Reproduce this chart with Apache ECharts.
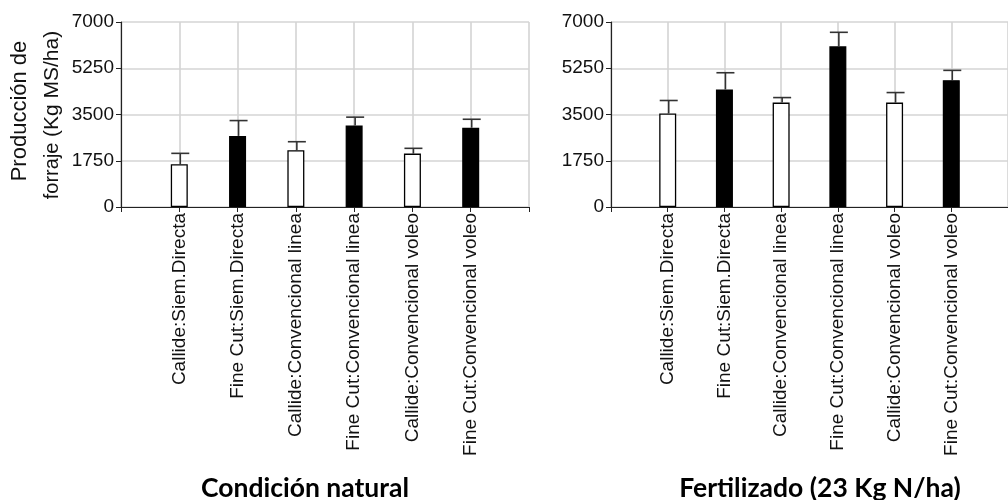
<!DOCTYPE html>
<html>
<head>
<meta charset="utf-8">
<script src="https://cdn.jsdelivr.net/npm/echarts@6/dist/echarts.min.js"></script>
<style>
html,body{margin:0;padding:0;background:#fff;}
#chart{width:1008px;height:500px;}
</style>
</head>
<body>
<div id="chart"></div>
<script>
const categories = ['Callide:Siem.Directa','Fine Cut:Siem.Directa','Callide:Convencional linea','Fine Cut:Convencional linea','Callide:Convencional voleo','Fine Cut:Convencional voleo'];
const naturalMean  = [1620, 2690, 2150, 3080, 2020, 3000];
const naturalUpper = [2030, 3270, 2470, 3400, 2220, 3320];
const fertMean  = [3540, 4450, 3950, 6080, 3950, 4800];
const fertUpper = [4030, 5080, 4140, 6610, 4330, 5170];
const yMin = 0, yMax = 7000, yStep = 1750;
const panelTitles = ['Condición natural', 'Fertilizado (23 Kg N/ha)'];
const yTitle1 = 'Producción de';
const yTitle2a = 'forraje ';
const yTitle2b = '(Kg MS/ha)';

const FONT = "'Liberation Sans', Arial, sans-serif";
const axisCats = [''].concat(categories).concat(['']);

function barData(vals) {
  const out = ['-'];
  vals.forEach((v, i) => {
    const black = categories[i].indexOf('Fine Cut') === 0;
    out.push({value: v, itemStyle: {color: black ? '#000' : '#fff', borderColor: '#000', borderWidth: 1.3}});
  });
  out.push('-');
  return out;
}
function errData(mean, upper) {
  return mean.map((m, i) => [i + 1, m, upper[i]]);
}
function errRender(params, api) {
  const x = api.value(0);
  const p0 = api.coord([x, api.value(1)]);
  const p1 = api.coord([x, api.value(2)]);
  const half = 9;
  const st = {stroke: '#333', lineWidth: 1.6};
  return {type: 'group', children: [
    {type: 'line', shape: {x1: p0[0] + 1, y1: p0[1], x2: p1[0] + 1, y2: p1[1]}, style: st},
    {type: 'line', shape: {x1: p1[0] + 1 - half, y1: p1[1], x2: p1[0] + 1 + half, y2: p1[1]}, style: st}
  ]};
}

const grids = [
  {left: 121, top: 22, width: 408, height: 185},
  {left: 611, top: 22, width: 407, height: 185}
];

function xAx(gi) {
  return {
    type: 'category', gridIndex: gi, data: axisCats, boundaryGap: false,
    axisLine: {lineStyle: {color: '#222', width: 1.2}},
    axisTick: {show: true, length: 5, interval: 0, lineStyle: {color: '#222'}},
    axisLabel: {interval: 0, rotate: 90, fontFamily: FONT, fontSize: 19, color: '#111', margin: 6},
    splitLine: {show: true, interval: 0, lineStyle: {color: '#d4d4d4', width: 1.6}}
  };
}
function yAx(gi) {
  return {
    type: 'value', gridIndex: gi, min: yMin, max: yMax, interval: yStep,
    axisLine: {show: true, lineStyle: {color: '#222', width: 1.2}},
    axisTick: {show: true, length: 5, lineStyle: {color: '#222'}},
    axisLabel: {fontFamily: FONT, fontSize: 19, color: '#111', margin: 7, formatter: v => String(v)},
    splitLine: {show: true, lineStyle: {color: '#d4d4d4', width: 1.6}}
  };
}

const chart = echarts.init(document.getElementById('chart'), null, {renderer: 'canvas'});
chart.setOption({
  animation: false,
  backgroundColor: '#fff',
  grid: grids,
  xAxis: [xAx(0), xAx(1)],
  yAxis: [yAx(0), yAx(1)],
  series: [
    {type: 'bar', xAxisIndex: 0, yAxisIndex: 0, barWidth: 17, data: barData(naturalMean), z: 2},
    {type: 'bar', xAxisIndex: 1, yAxisIndex: 1, barWidth: 17, data: barData(fertMean), z: 2},
    {type: 'custom', xAxisIndex: 0, yAxisIndex: 0, renderItem: errRender, data: errData(naturalMean, naturalUpper), z: 3},
    {type: 'custom', xAxisIndex: 1, yAxisIndex: 1, renderItem: errRender, data: errData(fertMean, fertUpper), z: 3}
  ],
  graphic: [
    {type: 'text', x: 20, y: 111, rotation: Math.PI / 2,
      style: {text: yTitle1, font: "22px " + FONT, fill: '#111', align: 'center', verticalAlign: 'middle'}},
    {type: 'text', x: 52, y: 115, rotation: Math.PI / 2,
      style: {text: '{a|' + yTitle2a + '}{b|' + yTitle2b + '}', align: 'center', verticalAlign: 'middle',
        rich: {a: {fontFamily: FONT, fontSize: 20, fill: '#111', verticalAlign: 'bottom'},
               b: {fontFamily: FONT, fontSize: 21, fill: '#111', verticalAlign: 'bottom'}}}},
    {type: 'text', x: 305, y: 488,
      style: {text: panelTitles[0], font: "bold 26.5px Lato, 'Open Sans', sans-serif", fill: '#000', align: 'center', verticalAlign: 'middle'}},
    {type: 'text', x: 820, y: 488,
      style: {text: panelTitles[1], font: "bold 26.5px Lato, 'Open Sans', sans-serif", fill: '#000', align: 'center', verticalAlign: 'middle'}}
  ]
});
</script>
</body>
</html>
